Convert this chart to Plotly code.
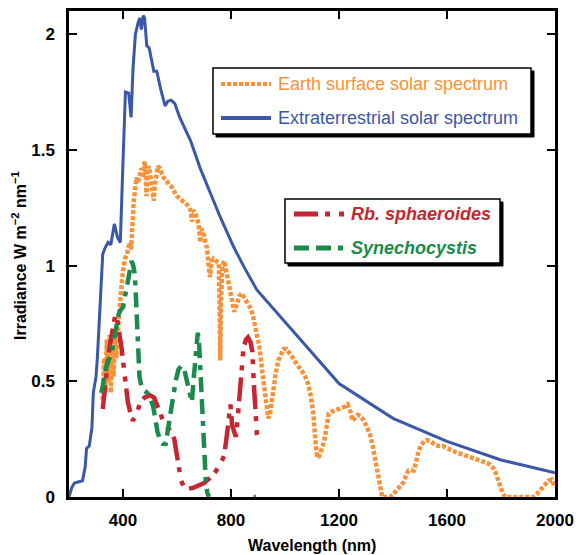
import plotly.graph_objects as go

# ---------------- data ----------------
ext_nm = [200, 210, 220, 240, 250, 260, 265, 275, 285, 290, 295, 300, 305, 315, 325, 335, 345, 355,
          368, 380, 390, 400, 409, 421, 430, 437, 446, 456, 462, 468, 475, 480, 488, 497, 506,
          514, 525, 540, 556, 566, 578, 592, 610, 650, 686, 720, 760, 810, 850, 896, 1200, 1400,
          1600, 1800, 2000]
ext_val = [0.0, 0.04, 0.06, 0.065, 0.07, 0.13, 0.21, 0.22, 0.30, 0.45, 0.48, 0.52, 0.60, 0.85, 1.05,
           1.08, 1.10, 1.09, 1.18, 1.12, 1.10, 1.45, 1.75, 1.745, 1.64, 1.85, 2.00, 2.05, 2.07,
           2.02, 2.08, 2.07, 1.95, 1.94, 1.88, 1.84, 1.84, 1.76, 1.69, 1.71, 1.715, 1.70, 1.64, 1.54,
           1.42, 1.32, 1.21, 1.08, 0.99, 0.895, 0.49, 0.34, 0.24, 0.16, 0.105]

earth_nm = [325, 330, 335, 340, 345, 350, 355, 360, 365, 370, 375, 380, 385, 390, 395, 400, 408, 415,
            420, 425, 430, 435, 440, 445, 450, 456, 462, 468, 474, 480, 484, 487, 490, 495, 500, 505,
            510, 514, 518, 524, 530, 536, 542, 550, 560, 570, 580, 590, 600, 610, 620, 630, 640, 650,
            656, 660, 670, 680, 686, 690, 700, 710, 718, 722, 728, 735, 745, 755, 758, 760, 763, 768,
            775, 785, 795, 805, 812, 818, 825, 832, 840, 850, 860, 870, 880, 890, 898, 905, 915, 925,
            932, 938, 945, 955, 965, 975, 985, 995, 1005, 1015, 1030, 1045, 1060, 1075, 1085, 1095,
            1105, 1112, 1118, 1125, 1135, 1145, 1155, 1162, 1175, 1190, 1205, 1220, 1232, 1242, 1250,
            1260, 1270, 1280, 1292, 1304, 1315, 1325, 1335, 1345, 1352, 1360, 1375, 1390, 1400, 1415,
            1430, 1440, 1450, 1458, 1468, 1477, 1487, 1495, 1505, 1515, 1526, 1540, 1557, 1570, 1585,
            1600, 1620, 1640, 1660, 1680, 1700, 1720, 1740, 1760, 1775, 1785, 1795, 1805, 1815, 1840,
            1870, 1900, 1920, 1935, 1945, 1960, 1975, 1988, 1995, 2000]
earth_val = [0.42, 0.60, 0.45, 0.68, 0.50, 0.70, 0.45, 0.65, 0.52, 0.70, 0.60, 0.72, 0.78, 0.85, 0.92,
             0.98, 1.03, 1.05, 1.08, 1.10, 1.07, 1.20, 1.28, 1.33, 1.38, 1.36, 1.40, 1.42, 1.38, 1.45,
             1.41, 1.30, 1.40, 1.43, 1.40, 1.36, 1.30, 1.28, 1.35, 1.40, 1.43, 1.42, 1.40, 1.38, 1.37,
             1.35, 1.34, 1.32, 1.30, 1.29, 1.28, 1.27, 1.26, 1.24, 1.19, 1.24, 1.22, 1.18, 1.10, 1.16,
             1.13, 1.08, 1.00, 0.95, 1.02, 1.03, 1.02, 1.01, 0.80, 0.59, 0.85, 1.00, 1.02, 0.96, 0.90,
             0.84, 0.80, 0.82, 0.85, 0.87, 0.88, 0.86, 0.84, 0.82, 0.79, 0.73, 0.70, 0.65, 0.55, 0.45,
             0.37, 0.34, 0.36, 0.45, 0.53, 0.59, 0.62, 0.64, 0.64, 0.625, 0.60, 0.57, 0.55, 0.52, 0.49,
             0.44, 0.36, 0.25, 0.18, 0.17, 0.20, 0.24, 0.31, 0.36, 0.37, 0.375, 0.38, 0.39, 0.40, 0.37,
             0.33, 0.34, 0.355, 0.35, 0.33, 0.30, 0.27, 0.22, 0.15, 0.08, 0.03, 0.0, 0.0, 0.0, 0.01,
             0.03, 0.05, 0.065, 0.10, 0.115, 0.115, 0.115, 0.16, 0.20, 0.225, 0.24, 0.246, 0.24, 0.225,
             0.22, 0.22, 0.21, 0.20, 0.19, 0.185, 0.175, 0.167, 0.16, 0.15, 0.14, 0.12, 0.09, 0.05,
             0.02, 0.0, 0.0, 0.0, 0.0, 0.0, 0.015, 0.03, 0.05, 0.07, 0.075, 0.06, 0.04]

rb_nm = [325, 335, 345, 355, 365, 372, 378, 385, 395, 403, 410, 418, 428, 436, 445, 455, 465, 480,
         500, 515, 528, 540, 552, 565, 580, 590, 597, 605, 615, 625, 640, 660, 680, 700, 720, 740,
         760, 775, 785, 792, 798, 804, 812, 818, 824, 830, 838, 846, 855, 863, 872, 879, 884, 889,
         896, 902]
rb_val = [0.38, 0.50, 0.60, 0.68, 0.75, 0.79, 0.77, 0.72, 0.64, 0.56, 0.47, 0.41, 0.36, 0.33, 0.345,
          0.38, 0.41, 0.43, 0.44, 0.43, 0.39, 0.36, 0.32, 0.30, 0.28, 0.25, 0.19, 0.12, 0.07, 0.045,
          0.035, 0.04, 0.05, 0.06, 0.08, 0.105, 0.14, 0.18, 0.27, 0.35, 0.40, 0.31, 0.27, 0.26, 0.33,
          0.42, 0.55, 0.64, 0.68, 0.69, 0.67, 0.63, 0.50, 0.38, 0.27, 0.24]

syn_nm = [320, 330, 340, 350, 360, 368, 376, 384, 392, 400, 408, 416, 424, 432, 438, 444, 448, 452,
          456, 461, 468, 478, 490, 500, 512, 520, 528, 538, 548, 558, 566, 575, 585, 595, 605, 615,
          625, 633, 640, 648, 655, 661, 667, 672, 677, 682, 686, 690, 694, 698, 702, 707, 712, 718,
          None, 884, 892]
syn_val = [0.45, 0.52, 0.57, 0.60, 0.64, 0.69, 0.75, 0.79, 0.81, 0.82, 0.87, 0.93, 0.98, 1.02, 1.00,
           0.96, 0.86, 0.72, 0.60, 0.52, 0.48, 0.46, 0.45, 0.43, 0.39, 0.33, 0.28, 0.245, 0.23, 0.23,
           0.29, 0.36, 0.43, 0.50, 0.55, 0.565, 0.56, 0.52, 0.47, 0.43, 0.41, 0.50, 0.60, 0.67, 0.71,
           0.66, 0.57, 0.45, 0.33, 0.22, 0.13, 0.06, 0.02, 0.0, None, 0.0, 0.0]

x_ticks = [400, 800, 1200, 1600, 2000]
y_ticks = [0, 0.5, 1, 1.5, 2]
y_tick_text = ["0", "0.5", "1", "1.5", "2"]

names = ["Earth surface solar spectrum", "Extraterrestrial solar spectrum",
         "<b><i>Rb. sphaeroides</i></b>", "<b><i>Synechocystis</i></b>"]

ORANGE = "#F7923A"
BLUE = "#3B57A7"
RED = "#C5262F"
GREEN = "#1B8A4B"

DASH_EARTH = "4px,2px"
DASH_RB = "24px,7px,5px,9px,5px,7px"
DASH_SYN = "15px,7px,15px,7px,5px,7px"

FONT = "Arial, Liberation Sans, Helvetica, sans-serif"

fig = go.Figure()
fig.add_trace(go.Scatter(x=earth_nm, y=earth_val, mode="lines",
                         line=dict(color=ORANGE, width=4.5, dash=DASH_EARTH), showlegend=False))
fig.add_trace(go.Scatter(x=ext_nm, y=ext_val, mode="lines",
                         line=dict(color=BLUE, width=3), showlegend=False))
fig.add_trace(go.Scatter(x=rb_nm, y=rb_val, mode="lines",
                         line=dict(color=RED, width=4.5, dash=DASH_RB), showlegend=False))
fig.add_trace(go.Scatter(x=syn_nm, y=syn_val, mode="lines", connectgaps=False,
                         line=dict(color=GREEN, width=4.5, dash=DASH_SYN), showlegend=False))

# pixel -> paper helpers
L, R, T, B = 69, 555, 11, 497
W, H = R - L, B - T


def px(x):
    return (x - L) / W


def py(y):
    return (B - y) / H


shapes = []
annotations = []


def legend_box(x0, y0, x1, y1, items):
    shapes.append(dict(type="rect", xref="paper", yref="paper", x0=px(x0 + 3), x1=px(x1 + 3),
                       y0=py(y0 + 3), y1=py(y1 + 3), fillcolor="black",
                       line=dict(color="black", width=1), layer="above"))
    shapes.append(dict(type="rect", xref="paper", yref="paper", x0=px(x0), x1=px(x1),
                       y0=py(y0), y1=py(y1), fillcolor="white",
                       line=dict(color="black", width=1.5), layer="above"))
    for (yy, sx0, sx1, tx, name, color, width, dash) in items:
        shapes.append(dict(type="line", xref="paper", yref="paper", x0=px(sx0), x1=px(sx1),
                           y0=py(yy), y1=py(yy), layer="above",
                           line=dict(color=color, width=width, dash=dash)))
        annotations.append(dict(xref="paper", yref="paper", x=px(tx), y=py(yy), text=name,
                                showarrow=False, xanchor="left", yanchor="middle",
                                font=dict(family=FONT, size=18, color=color)))


legend_box(213, 68, 531, 134,
           [(84, 221, 271, 276, names[0], ORANGE, 4, DASH_EARTH),
            (118, 221, 271, 276, names[1], BLUE, 4, "solid")])
legend_box(285, 199, 500, 263,
           [(214, 294, 345, 349, names[2], RED, 5, DASH_RB),
            (248, 294, 345, 349, names[3], GREEN, 5, DASH_SYN)])

annotations.append(dict(xref="paper", yref="paper", x=px(312), y=py(545),
                        text="<b>Wavelength (nm)</b>", showarrow=False,
                        xanchor="center", yanchor="middle",
                        font=dict(family=FONT, size=16, color="black")))
annotations.append(dict(xref="paper", yref="paper", x=px(19), y=py(256),
                        text="<b>Irradiance W m<sup>\u22122</sup> nm<sup>\u22121</sup></b>",
                        showarrow=False, textangle=-90, xanchor="center", yanchor="middle",
                        font=dict(family=FONT, size=16, color="black")))

axis_common = dict(showline=True, linecolor="black", linewidth=2.5, mirror="ticks",
                   ticks="inside", ticklen=8, tickwidth=2, tickcolor="black",
                   showgrid=False, zeroline=False, automargin=False,
                   tickfont=dict(family=FONT, size=17, color="black"))

fig.update_layout(
    width=576, height=555,
    margin=dict(l=L, r=576 - R, t=T, b=555 - B, pad=0, autoexpand=False),
    paper_bgcolor="white", plot_bgcolor="white",
    xaxis=dict(range=[200, 2000], tickvals=x_ticks,
               ticktext=["<b>%d</b>" % v for v in x_ticks], ticklabelstandoff=6, **axis_common),
    yaxis=dict(range=[0, 2.1], tickvals=y_ticks,
               ticktext=["<b>%s</b>" % t for t in y_tick_text], ticklabelstandoff=8, **axis_common),
    shapes=shapes, annotations=annotations, showlegend=False,
)

fig.write_html("out.html", config={"displayModeBar": False},
               post_script="document.body.style.margin='0';document.body.style.overflow='hidden';")
